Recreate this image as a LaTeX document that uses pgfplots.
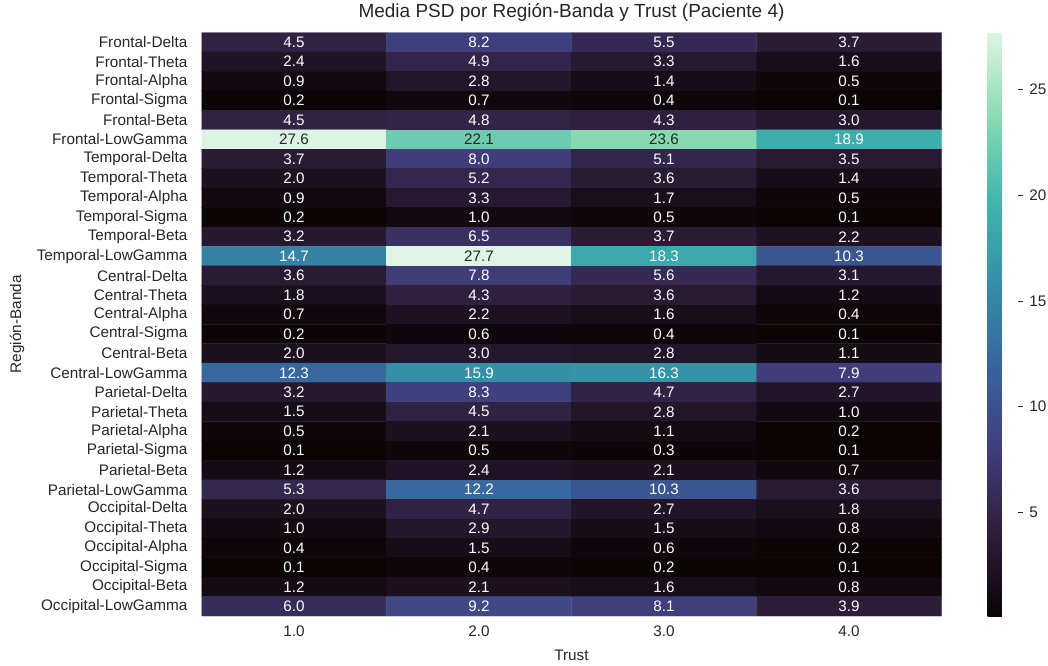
\documentclass[border=0pt]{standalone}
\usepackage{pgfplots}
\pgfplotsset{compat=1.18}
\usepackage{pgfplotstable}
\usepackage{fontspec}
\setmainfont{Liberation Sans}
\definecolor{txt}{HTML}{262626}
\pgfplotsset{/pgf/number format/assume math mode=true}

\pgfplotstableread{
x y z
0 0 4.5
1 0 8.2
2 0 5.5
3 0 3.7
0 1 2.4
1 1 4.9
2 1 3.3
3 1 1.6
0 2 0.9
1 2 2.8
2 2 1.4
3 2 0.5
0 3 0.2
1 3 0.7
2 3 0.4
3 3 0.1
0 4 4.5
1 4 4.8
2 4 4.3
3 4 3.0
0 5 27.6
1 5 22.1
2 5 23.6
3 5 18.9
0 6 3.7
1 6 8.0
2 6 5.1
3 6 3.5
0 7 2.0
1 7 5.2
2 7 3.6
3 7 1.4
0 8 0.9
1 8 3.3
2 8 1.7
3 8 0.5
0 9 0.2
1 9 1.0
2 9 0.5
3 9 0.1
0 10 3.2
1 10 6.5
2 10 3.7
3 10 2.2
0 11 14.7
1 11 27.7
2 11 18.3
3 11 10.3
0 12 3.6
1 12 7.8
2 12 5.6
3 12 3.1
0 13 1.8
1 13 4.3
2 13 3.6
3 13 1.2
0 14 0.7
1 14 2.2
2 14 1.6
3 14 0.4
0 15 0.2
1 15 0.6
2 15 0.4
3 15 0.1
0 16 2.0
1 16 3.0
2 16 2.8
3 16 1.1
0 17 12.3
1 17 15.9
2 17 16.3
3 17 7.9
0 18 3.2
1 18 8.3
2 18 4.7
3 18 2.7
0 19 1.5
1 19 4.5
2 19 2.8
3 19 1.0
0 20 0.5
1 20 2.1
2 20 1.1
3 20 0.2
0 21 0.1
1 21 0.5
2 21 0.3
3 21 0.1
0 22 1.2
1 22 2.4
2 22 2.1
3 22 0.7
0 23 5.3
1 23 12.2
2 23 10.3
3 23 3.6
0 24 2.0
1 24 4.7
2 24 2.7
3 24 1.8
0 25 1.0
1 25 2.9
2 25 1.5
3 25 0.8
0 26 0.4
1 26 1.5
2 26 0.6
3 26 0.2
0 27 0.1
1 27 0.4
2 27 0.2
3 27 0.1
0 28 1.2
1 28 2.1
2 28 1.6
3 28 0.8
0 29 6.0
1 29 9.2
2 29 8.1
3 29 3.9
}\data

\begin{document}
\begin{tikzpicture}
\useasboundingbox (0,0) rectangle (1048pt,665pt);
\begin{axis}[
  at={(201.5pt,49pt)}, anchor=south west,
  scale only axis, width=740pt, height=583.5pt,
  xmin=-0.5, xmax=3.5, ymin=-0.5, ymax=29.5,
  y dir=reverse, enlargelimits=false,
  axis line style={draw=none},
  major tick length=0pt,
  xtick={0,1,2,3}, xticklabels={1.0,2.0,3.0,4.0},
  ytick={0,...,29},
  yticklabels={Frontal-Delta,Frontal-Theta,Frontal-Alpha,Frontal-Sigma,Frontal-Beta,Frontal-LowGamma,
    Temporal-Delta,Temporal-Theta,Temporal-Alpha,Temporal-Sigma,Temporal-Beta,Temporal-LowGamma,
    Central-Delta,Central-Theta,Central-Alpha,Central-Sigma,Central-Beta,Central-LowGamma,
    Parietal-Delta,Parietal-Theta,Parietal-Alpha,Parietal-Sigma,Parietal-Beta,Parietal-LowGamma,
    Occipital-Delta,Occipital-Theta,Occipital-Alpha,Occipital-Sigma,Occipital-Beta,Occipital-LowGamma},
  tick label style={font=\fontsize{15.3}{18}\selectfont, text=txt},
  yticklabel style={inner xsep=0pt, xshift=-14pt},
  xticklabel style={inner ysep=0pt, yshift=-10pt},
  title={Media PSD por Región-Banda y Trust (Paciente 4)},
  title style={font=\fontsize{19}{22}\selectfont, text=txt, at={(axis description cs:0.5,1)}, anchor=base, inner sep=0pt, yshift=9pt},
  xlabel={Trust},
  xlabel style={font=\fontsize{15.3}{18}\selectfont, text=txt, at={(axis description cs:0.5,0)}, anchor=north, inner sep=0pt, yshift=-34pt},
  ylabel={Región-Banda},
  ylabel style={font=\fontsize{15.3}{18}\selectfont, text=txt, at={(axis description cs:-0.2493,0.5)}, anchor=center, inner sep=0pt},
  colormap={mako}{rgb255(0cm)=(11,4,5); rgb255(1cm)=(46,30,59); rgb255(2cm)=(65,61,123); rgb255(3cm)=(55,101,158); rgb255(4cm)=(52,143,167); rgb255(5cm)=(64,183,173); rgb255(6cm)=(139,218,178); rgb255(7cm)=(222,245,229)},
  point meta min=0.1, point meta max=27.7,
  colorbar,
  colorbar style={
    at={(parent axis.north east)}, anchor=north west, xshift=37.5pt,
    scale only axis, width=30pt,
    axis line style={draw=none},
    ytick={5,10,15,20,25},
    ytick pos=right,
    major tick length=5pt,
    tick align=outside,
    tick style={color=txt, line width=0.9pt},
    yticklabel style={font=\fontsize{15.3}{18}\selectfont, text=txt, inner xsep=0pt, xshift=6.5pt},
  },
]
\addplot[matrix plot*, mesh/cols=4, point meta=explicit] table[x=x, y=y, meta=z] {\data};
\addplot[draw=none, mark=none, point meta=explicit,
  unbounded coords=discard,
  y filter/.expression={\thisrow{z}>20 ? nan : y},
  nodes near coords={\pgfmathprintnumber[fixed,fixed zerofill,precision=1]{\pgfplotspointmeta}},
  every node near coord/.append style={anchor=center, inner sep=0pt, text=white, font=\fontsize{15.2}{18}\selectfont},
] table[x=x, y=y, meta=z] {\data};
\addplot[draw=none, mark=none, point meta=explicit,
  unbounded coords=discard,
  y filter/.expression={\thisrow{z}>20 ? y : nan},
  nodes near coords={\pgfmathprintnumber[fixed,fixed zerofill,precision=1]{\pgfplotspointmeta}},
  every node near coord/.append style={anchor=center, inner sep=0pt, text=txt, font=\fontsize{15.2}{18}\selectfont},
] table[x=x, y=y, meta=z] {\data};
\end{axis}
\end{tikzpicture}
\end{document}
